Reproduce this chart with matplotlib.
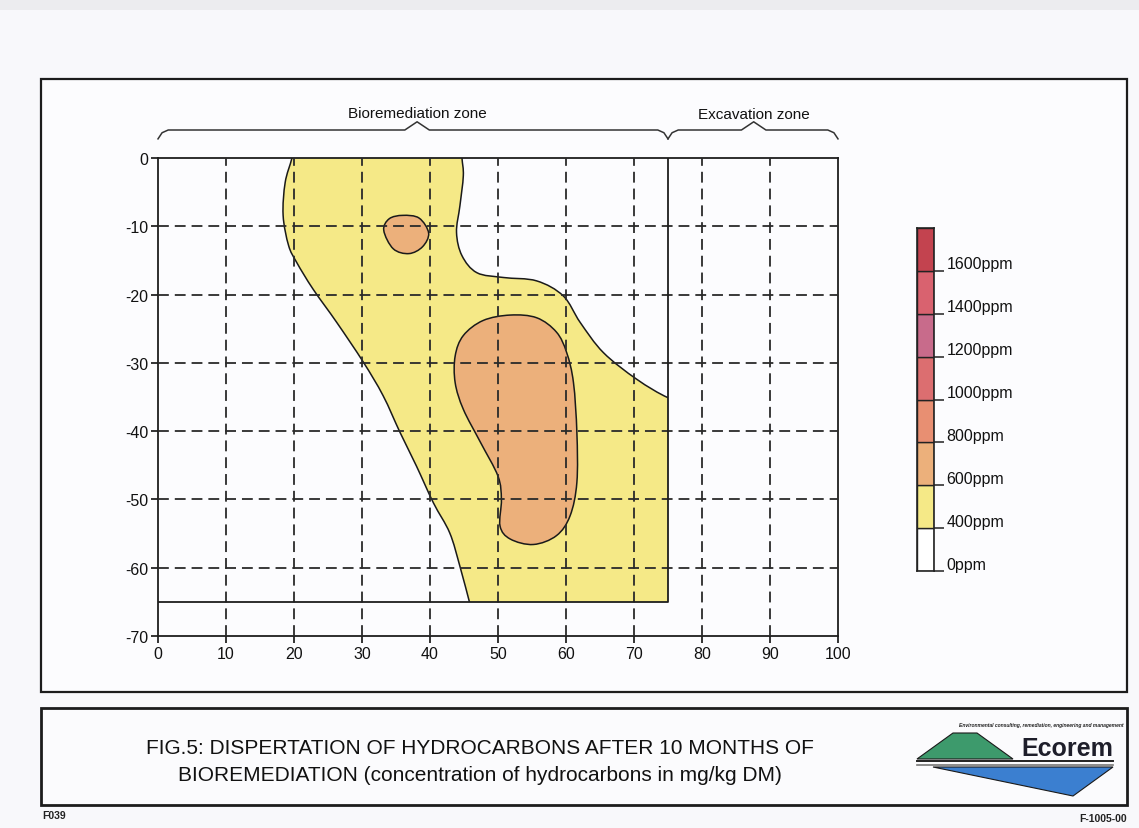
import numpy as np
import matplotlib
matplotlib.use("Agg")
import matplotlib.pyplot as plt
from matplotlib.patches import Rectangle, PathPatch, Polygon
from matplotlib.path import Path

plt.rcParams["font.family"] = ["Liberation Sans", "DejaVu Sans"]

# ---- data ----
x_ticks = [0, 10, 20, 30, 40, 50, 60, 70, 80, 90, 100]
y_ticks = [0, -10, -20, -30, -40, -50, -60, -70]
bio_box = (0, 75, -65)            # x from, x to, depth of bioremediation zone

levels = [0, 400, 600, 800, 1000, 1200, 1400, 1600]
level_colors = ["#ffffff", "#f5e987", "#ecb07b", "#e88f72", "#dc6e70",
                "#c86b8b", "#d9626f", "#c3434f"]

# 400-600 ppm zone outline (x, depth); parts outside the box get clipped
zone400_x = [20.3, 19.7, 18.7, 18.4, 19.2, 20.4, 22.8, 26.3, 30.2, 33.1, 35.6,
             38.0, 40.5, 42.9, 44.4, 45.9, 46.6, 80.0, 78.5, 75.0, 70.4, 65.5,
             62.1, 59.6, 55.7, 50.8, 46.9, 44.7, 43.9, 44.4, 44.9, 44.7, 44.5, 32.0]
zone400_y = [3.0, 0.0, -3.6, -8.4, -12.8, -15.3, -19.2, -24.1, -29.9, -34.8, -40.2,
             -45.1, -50.5, -54.9, -59.8, -65.4, -68.0, -70.0, -36.0, -35.1, -32.4, -28.5,
             -24.1, -20.2, -18.0, -17.5, -16.8, -14.3, -10.9, -7.0, -2.6, 0.0, 3.0, 5.0]

# 600-800 ppm spots
spot1_x = [33.2, 34.0, 36.0, 38.4, 39.8, 38.9, 36.9, 34.6]
spot1_y = [-10.6, -8.9, -8.4, -8.8, -11.0, -13.0, -14.0, -13.3]
spot2_x = [43.7, 44.9, 47.8, 51.8, 55.7, 58.6, 60.1, 61.1, 61.6, 61.6, 60.6, 58.6,
           55.2, 51.8, 50.3, 50.5, 50.0, 47.4, 44.9, 43.7]
spot2_y = [-29.0, -26.0, -23.8, -23.0, -23.4, -25.5, -28.5, -32.9, -40.2, -47.5,
           -52.4, -55.3, -56.6, -55.8, -53.9, -50.0, -46.6, -41.6, -36.8, -32.9]


def smooth_closed(xs, ys):
    # closed Catmull-Rom outline turned into cubic Bezier segments
    p = np.column_stack([xs, ys])
    n = len(p)
    verts, codes = [p[0]], [Path.MOVETO]
    for i in range(n):
        p0, p1, p2, p3 = p[(i - 1) % n], p[i], p[(i + 1) % n], p[(i + 2) % n]
        verts += [p1 + (p2 - p0) / 6, p2 - (p3 - p1) / 6, p2]
        codes += [Path.CURVE4] * 3
    return Path(verts, codes)


fig = plt.figure(figsize=(11.39, 8.29), dpi=100, facecolor="#f8f8fb")

# ---- page / frames, drawn in pixel coordinates ----
bg = fig.add_axes([0, 0, 1, 1]); bg.axis("off")
bg.set_xlim(0, 1139); bg.set_ylim(829, 0)
bg.add_patch(Rectangle((0, 0), 1139, 11, fc="#ececef", ec="none"))
bg.add_patch(Rectangle((41, 80), 1086, 613, fc="#fcfcfe", ec="#1c1c1c", lw=1.6))
bg.add_patch(Rectangle((41, 709), 1086, 97, fc="#fbfbfd", ec="#1c1c1c", lw=2.0))
bg.text(480, 748, "FIG.5: DISPERTATION OF HYDROCARBONS AFTER 10 MONTHS OF",
        ha="center", va="center", fontsize=15, color="#111111")
bg.text(480, 776, "BIOREMEDIATION (concentration of hydrocarbons in mg/kg DM)",
        ha="center", va="center", fontsize=15, color="#111111")
bg.text(42, 816, "F039", ha="left", va="center", fontsize=7.5, weight="bold", color="#222")
bg.text(1127, 819, "F-1005-00", ha="right", va="center", fontsize=7.5, weight="bold", color="#222")

# Ecorem logo
bg.text(1041, 725, "Environmental consulting, remediation, engineering and management",
        ha="center", va="center", fontsize=3.6, weight="bold", style="italic", color="#222")
bg.text(1113, 749, "Ecorem", ha="right", va="center", fontsize=18, weight="bold", color="#1e1e2a")
bg.add_patch(Polygon([(917, 760), (953, 734), (977, 734), (1013, 760)],
                     closed=True, fc="#3d9a6c", ec="#1a1a1a", lw=0.8))
bg.plot([917, 1113], [762, 762], color="#222", lw=1.4)
bg.plot([917, 1113], [766, 766], color="#777", lw=1.2)
bg.add_patch(Polygon([(933, 768), (1113, 768), (1073, 797)],
                     closed=True, fc="#3b7fd0", ec="#1a1a1a", lw=0.8))

# ---- main cross-section ----
ax = fig.add_axes([158 / 1139, 1 - 637 / 829, 680 / 1139, 478 / 829])
ax.patch.set_visible(False)
ax.set_xlim(0, 100); ax.set_ylim(-70, 0)

clip = Rectangle((bio_box[0], bio_box[2]), bio_box[1] - bio_box[0], -bio_box[2],
                 transform=ax.transData, fc="none", ec="none")
zone = PathPatch(smooth_closed(zone400_x, zone400_y), fc=level_colors[1],
                 ec="#1a1a1a", lw=1.1, zorder=1)
ax.add_patch(zone); zone.set_clip_path(clip)
for sx, sy in [(spot1_x, spot1_y), (spot2_x, spot2_y)]:
    ax.add_patch(PathPatch(smooth_closed(sx, sy), fc=level_colors[2],
                           ec="#1a1a1a", lw=1.1, zorder=2))

dash = (0, (6, 3.3))
ax.vlines(x_ticks[1:-1], -70, 0, colors="#2a2a2a", lw=1.3, linestyles=[dash], zorder=3)
ax.hlines(y_ticks[1:-1], 0, 100, colors="#2a2a2a", lw=1.3, linestyles=[dash], zorder=3)
ax.plot([bio_box[1], bio_box[1], bio_box[0]], [0, bio_box[2], bio_box[2]],
        color="#1e1e1e", lw=1.3, zorder=4)

for sp in ax.spines.values():
    sp.set_color("#1e1e1e"); sp.set_linewidth(1.3)
ax.set_xticks(x_ticks); ax.set_yticks(y_ticks)
ax.set_xticklabels([str(v) for v in x_ticks])
ax.set_yticklabels([str(v) for v in y_ticks])
ax.tick_params(direction="out", length=5, width=1.2, pad=2, labelsize=11.5,
               colors="#111111")

# zone braces
def brace(x0, x1, xm, ylo=2.8, yl=4.1, yp=5.3, d=1.5):
    ax.plot([x0, x0 + d * 0.4, x0 + d, xm - 1.8, xm, xm + 1.8, x1 - d, x1 - d * 0.4, x1],
            [ylo, yl - 0.4, yl, yl, yp, yl, yl, yl - 0.4, ylo],
            color="#333", lw=1.1, clip_on=False)

brace(0, 75, 38.1)
brace(75, 100, 87.6)
ax.text(38.1, 6.6, "Bioremediation zone", ha="center", va="center", fontsize=11,
        color="#111111", clip_on=False)
ax.text(87.6, 6.5, "Excavation zone", ha="center", va="center", fontsize=11,
        color="#111111", clip_on=False)

# ---- legend bar: one equal-height box per class ----
n_cls = len(level_colors)
cax = fig.add_axes([917 / 1139, 1 - 572 / 829, 17 / 1139, 343 / 829])
cax.set_xlim(0, 1); cax.set_ylim(0, n_cls)
cax.bar(0.5, 1, bottom=np.arange(n_cls), width=1, color=level_colors,
        edgecolor="#222", lw=1.0)
cax.set_xticks([])
cax.yaxis.tick_right()
cax.set_yticks(np.arange(n_cls)); cax.set_yticklabels([])
cax.tick_params(axis="y", length=7, width=1.1, colors="#222")
for sp in cax.spines.values():
    sp.set_color("#222"); sp.set_linewidth(1.2)
for i, lv in enumerate(levels):
    cax.annotate(f"{lv}ppm", xy=(1, i), xycoords=("axes fraction", "data"),
                 xytext=(9, 5), textcoords="offset points", ha="left", va="center",
                 fontsize=11.5, color="#111111", annotation_clip=False)

fig.savefig("out.png", dpi=100, facecolor=fig.get_facecolor())
